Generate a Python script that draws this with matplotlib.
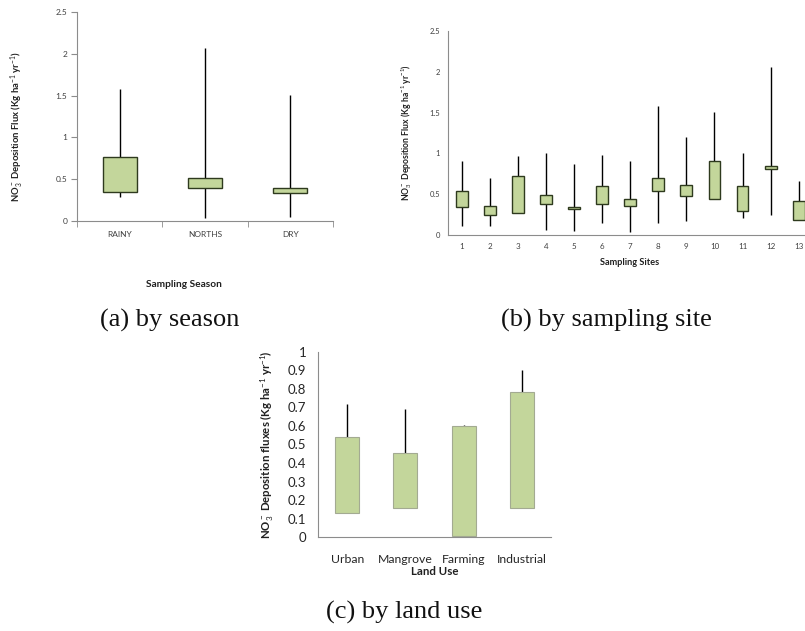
import matplotlib
matplotlib.use("Agg")
import matplotlib.pyplot as plt
import numpy as np

plt.rcParams['font.family'] = ['Lato', 'DejaVu Sans']
plt.rcParams['mathtext.fontset'] = 'custom'
plt.rcParams['mathtext.rm'] = 'Lato'
plt.rcParams['mathtext.it'] = 'Lato:italic'
plt.rcParams['mathtext.bf'] = 'Lato:bold'

# ---- (a) by season ----
seasons = ["RAINY", "NORTHS", "DRY"]
season_high = [1.58, 2.07, 1.51]
season_q3 = [0.76, 0.51, 0.40]
season_q1 = [0.35, 0.395, 0.34]
season_low = [0.29, 0.03, 0.045]

# ---- (b) by sampling site ----
sites = [str(i) for i in range(1, 14)]
site_high = [0.91, 0.70, 0.97, 1.00, 0.87, 0.98, 0.91, 1.58, 1.20, 1.51, 1.00, 2.06, 0.66]
site_q3 = [0.535, 0.35, 0.72, 0.49, 0.347, 0.60, 0.437, 0.694, 0.617, 0.903, 0.596, 0.85, 0.42]
site_q1 = [0.343, 0.25, 0.265, 0.375, 0.32, 0.375, 0.35, 0.54, 0.474, 0.437, 0.29, 0.805, 0.184]
site_low = [0.11, 0.11, 0.265, 0.06, 0.05, 0.15, 0.037, 0.15, 0.17, 0.437, 0.21, 0.25, 0.184]

# ---- (c) by land use ----
landuse = ["Urban", "Mangrove", "Farming", "Industrial"]
land_high = [0.718, 0.691, 0.607, 0.90]
land_q3 = [0.539, 0.454, 0.60, 0.783]
land_q1 = [0.129, 0.16, 0.009, 0.16]
land_low = [0.129, 0.16, 0.009, 0.158]

FILL = '#c3d69b'
EDGE = '#2e3a1e'
AXC = '#8c8c8c'
TXT = '#404040'

W, H = 805, 631
fig = plt.figure(figsize=(W / 100, H / 100), dpi=100)


def px_axes(left, right, top, bottom):
    return fig.add_axes([left / W, 1 - bottom / H, (right - left) / W, (bottom - top) / H])


def draw_panel(ax, cats, high, q3, q1, low, width, edge, elw, wlw):
    x = np.arange(len(cats))
    ax.vlines(x, low, high, color='black', lw=wlw, zorder=1)
    ax.bar(x, np.array(q3) - np.array(q1), bottom=q1, width=width,
           color=FILL, edgecolor=edge, linewidth=elw, zorder=2)
    ax.set_xlim(-0.5, len(cats) - 0.5)
    ax.set_xticks(x)
    ax.set_xticklabels(cats)
    for s in ['top', 'right']:
        ax.spines[s].set_visible(False)
    for s in ['left', 'bottom']:
        ax.spines[s].set_color(AXC)
        ax.spines[s].set_linewidth(0.8)


ylab_a = r'NO$_3^-$ Deposition Flux (Kg ha$^{-1}$ yr$^{-1}$)'

# Panel (a)
axa = px_axes(77, 333, 12, 221)
draw_panel(axa, seasons, season_high, season_q3, season_q1, season_low, 0.40, EDGE, 1.0, 1.0)
axa.set_ylim(0, 2.5)
axa.set_yticks([0, 0.5, 1, 1.5, 2, 2.5])
axa.set_yticklabels(['0', '0.5', '1', '1.5', '2', '2.5'])
axa.set_xticks(np.arange(-0.5, 3.0, 1.0), minor=True)
axa.tick_params(axis='x', which='major', length=0, labelsize=6, labelcolor=TXT, pad=7)
axa.tick_params(axis='x', which='minor', length=4, color=AXC)
axa.tick_params(axis='y', length=4, color=AXC, labelsize=6, labelcolor=TXT, pad=3)
axa.set_xlabel('Sampling Season', fontsize=7.3, fontweight='bold', color='#202020')
axa.set_ylabel(ylab_a, fontsize=6.8, fontweight='bold', color='#202020')
axa.xaxis.set_label_coords((183.7 - 77) / 256, (221 - 280) / 209)
axa.yaxis.set_label_coords((26 - 77) / 256, (221 - 126.5) / 209)

# Panel (b)
axb = px_axes(447.7, 447.7 + 13 * 28.08, 31, 235)
draw_panel(axb, sites, site_high, site_q3, site_q1, site_low, 0.42, EDGE, 1.0, 1.0)
axb.set_ylim(0, 2.5)
axb.set_yticks([0, 0.5, 1, 1.5, 2, 2.5])
axb.set_yticklabels(['0', '0.5', '1', '1.5', '2', '2.5'])
axb.tick_params(axis='x', length=0, labelsize=5.8, labelcolor=TXT, pad=6)
axb.tick_params(axis='y', length=0, labelsize=5.5, labelcolor=TXT, pad=5.5)
axb.set_xlabel('Sampling Sites', fontsize=6.6, fontweight='bold', color='#202020')
axb.set_ylabel(ylab_a, fontsize=6.2, fontweight='bold', color='#202020')
axb.xaxis.set_label_coords((630 - 447.7) / 365, (235 - 258) / 204)
axb.yaxis.set_label_coords((414 - 447.7) / 365, (235 - 133) / 204)

# Panel (c)
axc = px_axes(318, 551, 351.7, 537.3)
draw_panel(axc, landuse, land_high, land_q3, land_q1, land_low, 0.41, '#a3aa92', 0.8, 1.0)
axc.set_ylim(0, 1)
axc.set_yticks(np.round(np.arange(0, 1.01, 0.1), 1))
axc.set_yticklabels(['0', '0.1', '0.2', '0.3', '0.4', '0.5', '0.6', '0.7', '0.8', '0.9', '1'])
axc.tick_params(axis='x', length=0, labelsize=8.8, labelcolor='#262626', pad=12)
axc.tick_params(axis='y', length=0, labelsize=9.5, labelcolor='#262626', pad=8.5)
axc.set_xlabel('Land Use', fontsize=8.3, fontweight='bold', color='#202020')
axc.set_ylabel(r'NO$_3^-$ Deposition fluxes (Kg ha$^{-1}$ yr$^{-1}$)', fontsize=8.2,
               fontweight='bold', color='#202020')
axc.xaxis.set_label_coords(0.5, (537.3 - 566) / 185.6)
axc.yaxis.set_label_coords((276 - 318) / 233, 0.5)

# Captions
cap = dict(fontsize=19, family='Liberation Serif', ha='center', va='center', color='#111111')
fig.text(170 / W, 1 - 320 / H, '(a) by season', **cap)
fig.text(606 / W, 1 - 320 / H, '(b) by sampling site', **cap)
fig.text(404 / W, 1 - 612 / H, '(c) by land use', **cap)

fig.savefig('out.png', dpi=100)
